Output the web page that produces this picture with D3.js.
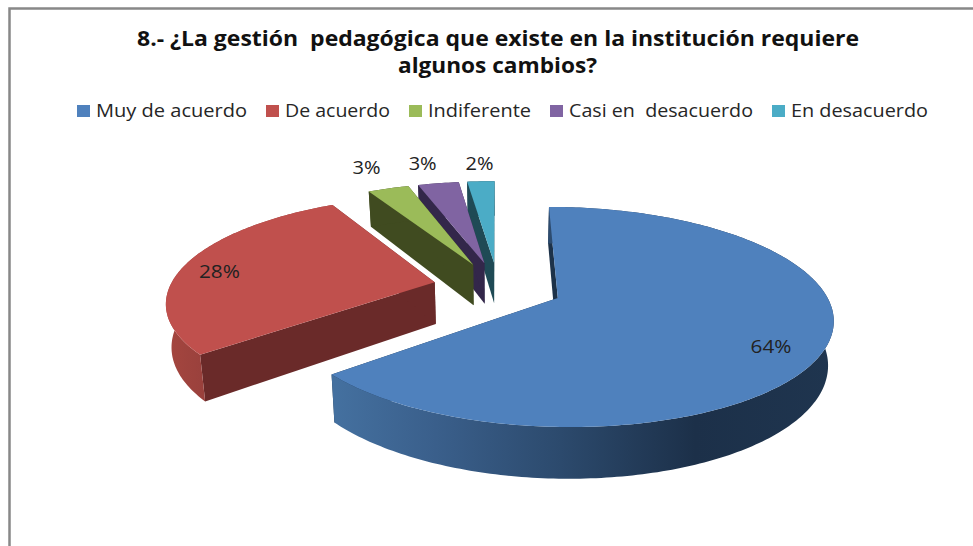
<!DOCTYPE html>
<html><head><meta charset="utf-8">
<script src="https://cdn.jsdelivr.net/npm/d3@7/dist/d3.min.js"></script>
<style>html,body{margin:0;padding:0;background:#fff;overflow:hidden}svg{display:block}text{font-family:"Open Sans",sans-serif}</style>
</head><body>
<script>
const categories = ["Muy de acuerdo","De acuerdo","Indiferente","Casi en  desacuerdo","En desacuerdo"];
const values = [64,28,3,3,2];
const titleLines = ["8.- ¿La gestión  pedagógica que existe en la institución requiere","algunos cambios?"];
const topColors = ["#4f81bd","#c0504d","#9bbb59","#8064a2","#4bacc6"];
const wallColors = ["#1d3249","#6a2a29","#404b20","#33274a","#1f4a55"];

const W=973,H=546;
const svg=d3.select("body").append("svg").attr("width",W).attr("height",H);
svg.append("path").attr("d",`M9.5 ${H}V8.5H${W}`).attr("fill","none").attr("stroke","#888").attr("stroke-width",2.5);

// world -> screen
const k=0.17, explode=0.245, depth=42, shrink=0.017;
const xS=d3.scaleLinear().domain([-1,1]).range([498-265,498+265]);
const yS=d3.scaleLinear().domain([-1,1]).range([287+103,287-103]);
function project(X,Z,low){
  const p=1/(1+k*Z);
  const m=low?1-shrink:1;
  return [xS(X*p*m), yS(Z*p)+(low?depth*p:0)];
}
const pie=d3.pie().sort(null).startAngle(0).endAngle(2*Math.PI);
const arcs=pie(values).map((d,i)=>{
  const mid=(d.startAngle+d.endAngle)/2;
  return {...d,i,mid,ox:explode*Math.sin(mid),oz:explode*Math.cos(mid)};
});
const line=d3.line();
function rimPts(a){
  const n=Math.max(2,Math.ceil((a.endAngle-a.startAngle)*60));
  return d3.range(n+1).map(j=>{
    const t=a.startAngle+(a.endAngle-a.startAngle)*j/n;
    return [a.ox+Math.sin(t),a.oz+Math.cos(t)];
  });
}
const defs=svg.append("defs");
const gradBlue=defs.append("linearGradient").attr("id","rim0").attr("gradientUnits","userSpaceOnUse")
  .attr("x1",336).attr("x2",835).attr("y1",0).attr("y2",0);
[[0,"#44709f"],[.2,"#3a5f8b"],[.45,"#2c4a6d"],[.72,"#1c3049"],[1,"#1f354f"]].forEach(s=>gradBlue.append("stop").attr("offset",s[0]).attr("stop-color",s[1]));
const gradRed=defs.append("linearGradient").attr("id","rim1").attr("gradientUnits","userSpaceOnUse")
  .attr("x1",165).attr("x2",210).attr("y1",0).attr("y2",0);
[[0,"#a5463f"],[1,"#98403c"]].forEach(s=>gradRed.append("stop").attr("offset",s[0]).attr("stop-color",s[1]));

const order=[4,3,2,1,0];
order.forEach(i=>{
  const a=arcs[i], g=svg.append("g"), rim=rimPts(a);
  const apexT=project(a.ox,a.oz,false), apexB=project(a.ox,a.oz,true);
  const rimT=rim.map(r=>project(r[0],r[1],false));
  const rimB=rim.map(r=>project(r[0],r[1],true));
  const wall=(t,b)=>g.append("path").attr("d",line([apexT,t,b,apexB])+"Z").attr("fill",wallColors[i]);
  wall(rimT[0],rimB[0]);
  wall(rimT[rimT.length-1],rimB[rimB.length-1]);
  g.append("path").attr("d",line(rimT.concat(rimB.slice().reverse()))+"Z")
    .attr("fill",i<2?`url(#rim${i})`:wallColors[i]);
  g.append("path").attr("d",line([apexT].concat(rimT))+"Z").attr("fill",topColors[i]);
});

// title
const titleLayout=[{x:137,y:46,len:722},{x:398,y:73,len:199}];
svg.selectAll("text.title").data(titleLines).join("text").attr("class","title")
  .attr("x",(d,i)=>titleLayout[i].x).attr("y",(d,i)=>titleLayout[i].y)
  .attr("textLength",(d,i)=>titleLayout[i].len).attr("lengthAdjust","spacingAndGlyphs")
  .style("white-space","pre")
  .attr("font-size",21).attr("font-weight",700).attr("fill","#111").text(d=>d);

// legend
const legendLayout=[{s:77,x:96,len:151},{s:266,x:285,len:105},{s:409,x:428,len:103},{s:550,x:569,len:184},{s:772,x:791,len:137}];
const lg=svg.selectAll("g.lg").data(categories).join("g").attr("class","lg");
lg.append("rect").attr("x",(d,i)=>legendLayout[i].s).attr("y",105).attr("width",13).attr("height",12).attr("fill",(d,i)=>topColors[i]);
lg.append("text").attr("x",(d,i)=>legendLayout[i].x).attr("y",117).attr("textLength",(d,i)=>legendLayout[i].len)
  .attr("lengthAdjust","spacingAndGlyphs").style("white-space","pre")
  .attr("font-size",18).attr("fill","#262626").text(d=>d);

// data labels
const labelLayout=[{r:0.8,dx:2,dy:16,len:41},{r:0.74,dx:-30,dy:9,len:41},{r:1.12,dx:-13,dy:-7,len:28},{r:1.12,dx:-11,dy:-5,len:28},{r:1.12,dx:0,dy:-3,len:28}];
const fmt=d3.format(".0%"), total=d3.sum(values);
const labelPos=a=>{
  const L=labelLayout[a.i];
  const p=project(a.ox+L.r*Math.sin(a.mid),a.oz+L.r*Math.cos(a.mid),false);
  return [p[0]+L.dx,p[1]+L.dy];
};
svg.selectAll("text.dl").data(arcs).join("text").attr("class","dl")
  .attr("x",a=>labelPos(a)[0]-labelLayout[a.i].len/2)
  .attr("y",a=>labelPos(a)[1])
  .attr("textLength",a=>labelLayout[a.i].len).attr("lengthAdjust","spacingAndGlyphs")
  .attr("font-size",19).attr("fill","#222")
  .text(a=>fmt(a.value/total));
</script>
</body></html>
